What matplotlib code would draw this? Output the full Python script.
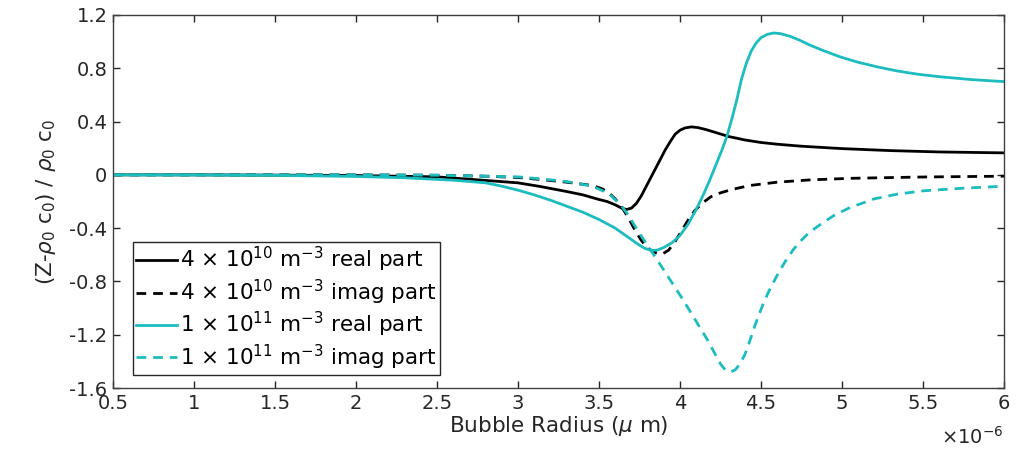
import matplotlib
matplotlib.use("Agg")
import matplotlib.pyplot as plt
from matplotlib.ticker import FuncFormatter

plt.rcParams['font.family'] = ['DejaVu Sans']
plt.rcParams['axes.unicode_minus'] = False
plt.rcParams['mathtext.fontset'] = 'dejavusans'

# Bubble radius (x 1e-6 m) and normalized impedance values
r_black_real = [0.5, 1.0, 1.5, 2.0, 2.5, 2.89, 3.0, 3.14, 3.3, 3.4, 3.5, 3.55, 3.6, 3.64, 3.67,
                3.70, 3.73, 3.76, 3.79, 3.82, 3.85, 3.88, 3.91, 3.94, 3.97, 4.00, 4.03, 4.07,
                4.11, 4.16, 4.22, 4.3, 4.4, 4.5, 4.6, 4.75, 5.0, 5.3, 5.6, 6.0]
z_black_real = [0.0, 0.0, -0.002, -0.005, -0.015, -0.05, -0.06, -0.088, -0.125, -0.15, -0.185,
                -0.2, -0.225, -0.25, -0.26, -0.25, -0.215, -0.16, -0.09, -0.02, 0.05, 0.12,
                0.19, 0.25, 0.305, 0.335, 0.352, 0.36, 0.355, 0.34, 0.318, 0.288, 0.262,
                0.243, 0.23, 0.215, 0.197, 0.182, 0.172, 0.165]

r_black_imag = [0.5, 1.5, 2.0, 2.5, 2.8, 3.0, 3.14, 3.3, 3.46, 3.52, 3.56, 3.60, 3.64, 3.68,
                3.72, 3.76, 3.80, 3.85, 3.89, 3.93, 3.97, 4.01, 4.05, 4.09, 4.14, 4.19, 4.25,
                4.32, 4.43, 4.6, 4.8, 5.05, 5.5, 6.0]
z_black_imag = [0.0, 0.0, 0.0, -0.003, -0.01, -0.02, -0.035, -0.055, -0.08, -0.105, -0.135,
                -0.18, -0.24, -0.32, -0.41, -0.49, -0.55, -0.585, -0.595, -0.565, -0.5, -0.42,
                -0.34, -0.27, -0.21, -0.165, -0.135, -0.11, -0.08, -0.055, -0.038, -0.026,
                -0.016, -0.01]

r_cyan_real = [0.5, 1.0, 1.5, 2.0, 2.3, 2.6, 2.8, 2.9, 3.0, 3.1, 3.2, 3.3, 3.4, 3.5, 3.6,
               3.67, 3.74, 3.78, 3.82, 3.86, 3.90, 3.95, 4.00, 4.05, 4.10, 4.14, 4.18, 4.22,
               4.26, 4.29, 4.32, 4.35, 4.38, 4.41, 4.44, 4.47, 4.50, 4.54, 4.58, 4.62, 4.68,
               4.74, 4.80, 4.88, 4.99, 5.1, 5.22, 5.34, 5.47, 5.6, 5.8, 6.0]
z_cyan_real = [0.0, -0.001, -0.004, -0.012, -0.022, -0.04, -0.06, -0.085, -0.115, -0.15,
               -0.19, -0.235, -0.28, -0.335, -0.40, -0.46, -0.52, -0.55, -0.567, -0.565,
               -0.545, -0.51, -0.455, -0.37, -0.26, -0.16, -0.05, 0.07, 0.19, 0.29, 0.42,
               0.56, 0.72, 0.84, 0.93, 0.99, 1.03, 1.055, 1.065, 1.06, 1.04, 1.01, 0.975,
               0.935, 0.885, 0.845, 0.81, 0.78, 0.755, 0.737, 0.715, 0.70]

r_cyan_imag = [0.5, 2.0, 2.5, 3.0, 3.14, 3.3, 3.46, 3.56, 3.63, 3.68, 3.74, 3.80, 3.86, 3.94,
               4.02, 4.09, 4.13, 4.17, 4.21, 4.25, 4.28, 4.31, 4.34, 4.37, 4.40, 4.43, 4.46,
               4.49, 4.52, 4.55, 4.58, 4.61, 4.65, 4.70, 4.75, 4.80, 4.87, 4.95, 5.05, 5.2,
               5.34, 5.5, 5.75, 6.0]
z_cyan_imag = [0.0, 0.0, -0.003, -0.015, -0.03, -0.05, -0.085, -0.14, -0.22, -0.3, -0.42,
               -0.53, -0.64, -0.79, -0.94, -1.08, -1.16, -1.24, -1.33, -1.42, -1.465, -1.48,
               -1.465, -1.42, -1.35, -1.25, -1.14, -1.04, -0.95, -0.87, -0.80, -0.73, -0.65,
               -0.56, -0.49, -0.43, -0.37, -0.305, -0.245, -0.18, -0.145, -0.12, -0.1,
               -0.085]

labels = ['4 × 10$^{10}$ m$^{-3}$ real part',
          '4 × 10$^{10}$ m$^{-3}$ imag part',
          '1 × 10$^{11}$ m$^{-3}$ real part',
          '1 × 10$^{11}$ m$^{-3}$ imag part']

x_ticks = [0.5, 1, 1.5, 2, 2.5, 3, 3.5, 4, 4.5, 5, 5.5, 6]
y_ticks = [-1.6, -1.2, -0.8, -0.4, 0, 0.4, 0.8, 1.2]

black = '#000000'
cyan = '#1cbcbf'
gray = '#262626'

fig = plt.figure(figsize=(10.16, 4.51), dpi=100)
ax = fig.add_axes([113/1016, 1-388/451, (1004-113)/1016, (388-15)/451])

lw = 2.0
ax.plot(r_black_real, z_black_real, color=black, lw=lw, label=labels[0])
ax.plot(r_black_imag, z_black_imag, color=black, lw=lw, dashes=(3.5, 2.5), label=labels[1])
ax.plot(r_cyan_real, z_cyan_real, color=cyan, lw=lw, label=labels[2])
ax.plot(r_cyan_imag, z_cyan_imag, color=cyan, lw=lw, dashes=(3.5, 2.5), label=labels[3])

ax.set_xlim(0.5, 6)
ax.set_ylim(-1.6, 1.2)
ax.set_xticks(x_ticks)
ax.set_yticks(y_ticks)
fmt = FuncFormatter(lambda v, p: '%g' % round(v, 3))
ax.xaxis.set_major_formatter(fmt)
ax.yaxis.set_major_formatter(fmt)
ax.tick_params(direction='in', length=5, width=1, top=True, right=True,
               labelsize=14, colors=gray, pad=4)
for s in ax.spines.values():
    s.set_color('#404040')
    s.set_linewidth(1)

ax.set_xlabel(r'Bubble Radius ($\mu$ m)', fontsize=15.5, color=gray, labelpad=1)
ax.set_ylabel(r'(Z-$\rho_0$ c$_0$) / $\rho_0$ c$_0$', fontsize=15.5, color=gray, labelpad=8)

fig.text(1004/1016, 1-437/451, r'$\times$10$^{-6}$', ha='right', va='center',
         fontsize=14, color=gray)

leg = ax.legend(loc='lower left', bbox_to_anchor=(20/891, 13/373), borderaxespad=0,
                fontsize=15.5, frameon=True, fancybox=False, framealpha=1,
                edgecolor='#262626', handlelength=1.9, handletextpad=0.15,
                borderpad=0.15, labelspacing=0.15)
leg.get_frame().set_linewidth(1)
for t in leg.get_texts():
    t.set_color('#000000')

fig.savefig('out.png', dpi=100)
